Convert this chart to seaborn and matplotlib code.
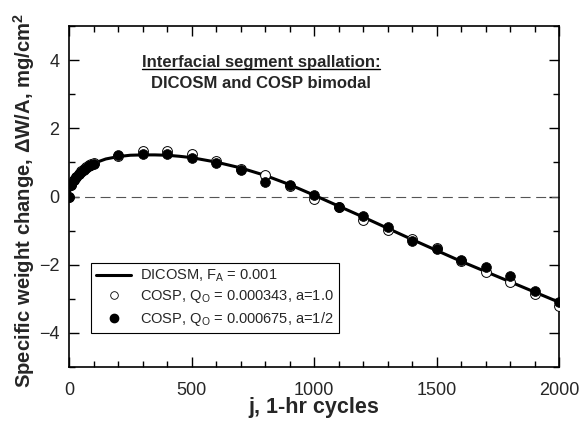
import numpy as np
import pandas as pd
import matplotlib
matplotlib.use("Agg")
import matplotlib.pyplot as plt
import seaborn as sns
from matplotlib.ticker import MultipleLocator
from matplotlib.lines import Line2D

# ---- data ----
curve_j = [0, 5, 10, 20, 30, 40, 50, 60, 70, 80, 90, 100, 150, 200, 250, 300, 350, 400,
           450, 500, 600, 700, 800, 900, 1000, 1100, 1200, 1300, 1400, 1500, 1600, 1700,
           1800, 1900, 2000]
curve_w = [0, 0.25, 0.36, 0.50, 0.60, 0.68, 0.75, 0.81, 0.86, 0.90, 0.94, 0.97, 1.10, 1.17,
           1.21, 1.22, 1.22, 1.21, 1.18, 1.14, 1.01, 0.84, 0.62, 0.35, 0.04, -0.28, -0.60,
           -0.93, -1.26, -1.58, -1.90, -2.20, -2.50, -2.80, -3.10]

pts_j = [0, 10, 20, 30, 40, 50, 60, 70, 80, 90, 100, 200, 300, 400, 500, 600, 700, 800,
         900, 1000, 1100, 1200, 1300, 1400, 1500, 1600, 1700, 1800, 1900, 2000]
open_w = [0, 0.33, 0.47, 0.58, 0.67, 0.75, 0.81, 0.86, 0.91, 0.95, 0.99, 1.20, 1.32, 1.32,
          1.26, 1.03, 0.80, 0.64, 0.30, -0.07, -0.30, -0.69, -0.98, -1.26, -1.50, -1.88,
          -2.21, -2.50, -2.86, -3.20]
filled_w = [0, 0.35, 0.48, 0.58, 0.66, 0.73, 0.79, 0.84, 0.88, 0.92, 0.95, 1.21, 1.26, 1.24,
            1.13, 0.98, 0.77, 0.43, 0.35, 0.03, -0.31, -0.57, -0.90, -1.31, -1.55, -1.86,
            -2.08, -2.33, -2.76, -3.09]

labels = ["DICOSM, F$_\\mathrm{A}$ = 0.001",
          "COSP, Q$_\\mathrm{O}$ = 0.000343, a=1.0",
          "COSP, Q$_\\mathrm{O}$ = 0.000675, a=1/2"]

# ---- style ----
sns.set_style("ticks")
plt.rcParams["font.family"] = ["Liberation Sans", "DejaVu Sans"]
plt.rcParams["mathtext.fontset"] = "custom"
plt.rcParams["mathtext.rm"] = "Liberation Sans"
plt.rcParams["mathtext.it"] = "Liberation Sans:italic"
plt.rcParams["mathtext.bf"] = "Liberation Sans:bold"

fig = plt.figure(figsize=(5.82, 4.24), dpi=100)
ax = fig.add_axes([69/582, 1-367/424, (559-69)/582, (367-26)/424])

df_curve = pd.DataFrame({"j": curve_j, "w": curve_w})
df_open = pd.DataFrame({"j": pts_j, "w": open_w})
df_fill = pd.DataFrame({"j": pts_j, "w": filled_w})

ax.axhline(0, color="#555555", lw=0.8, dashes=(9, 5), zorder=1)
sns.lineplot(data=df_curve, x="j", y="w", ax=ax, color="black", lw=2.2, zorder=2)
sns.scatterplot(data=df_open, x="j", y="w", ax=ax, marker="o", s=50,
                facecolor="white", edgecolor="black", linewidth=0.7, zorder=3)
sns.scatterplot(data=df_fill, x="j", y="w", ax=ax, marker="o", s=50,
                color="black", edgecolor="black", linewidth=0.5, zorder=4)

ax.set_xlim(0, 2000)
ax.set_ylim(-5, 5)
ax.xaxis.set_major_locator(MultipleLocator(500))
ax.xaxis.set_minor_locator(MultipleLocator(100))
ax.yaxis.set_major_locator(MultipleLocator(2))
ax.yaxis.set_minor_locator(MultipleLocator(1))
ax.tick_params(which="both", direction="in", top=True, right=True, color="black",
               labelsize=13)
ax.tick_params(axis="x", which="major", pad=10.5)
ax.tick_params(axis="y", which="major", pad=7)
ax.tick_params(which="major", length=7, width=1)
ax.tick_params(which="minor", length=4, width=1)
for sp in ax.spines.values():
    sp.set_linewidth(1.2)
    sp.set_color("black")

ax.set_xlabel("j, 1-hr cycles", fontsize=15.5, fontweight="bold")
ax.set_ylabel("Specific weight change, \u0394W/A, mg/cm$^\\mathbf{2}$", fontsize=14.6,
              fontweight="bold")
ax.xaxis.set_label_coords(0.5, -0.088)
ax.yaxis.set_label_coords(-0.065, 0.49)

t1 = ax.text(784, (197-62)/34.25, "Interfacial segment spallation:", ha="center",
             va="center", fontsize=12, fontweight="bold")
ax.text(784, (197-84)/34.25, "DICOSM and COSP bimodal", ha="center", va="center",
        fontsize=12, fontweight="bold")

handles = [Line2D([], [], color="black", lw=2.2),
           Line2D([], [], ls="none", marker="o", ms=5.5, mfc="white", mec="black", mew=0.6),
           Line2D([], [], ls="none", marker="o", ms=6, mfc="black", mec="black")]
leg = ax.legend(handles, labels, loc="lower left", bbox_to_anchor=(0.045, 0.1),
                fontsize=10.5, frameon=True, fancybox=False, edgecolor="black",
                framealpha=1, handlelength=2.4, borderpad=0.35, labelspacing=0.3,
                handletextpad=0.6, borderaxespad=0)
leg.get_frame().set_linewidth(0.8)

# underline the first title line
fig.canvas.draw()
bb = t1.get_window_extent()
inv = fig.transFigure.inverted()
(x0, y0), (x1, _) = inv.transform([(bb.x0, bb.y0 + 1), (bb.x1, bb.y0 + 1)])
fig.add_artist(Line2D([x0, x1], [y0, y0], color="black", lw=1.0, transform=fig.transFigure))

fig.savefig("out.png", dpi=100)
